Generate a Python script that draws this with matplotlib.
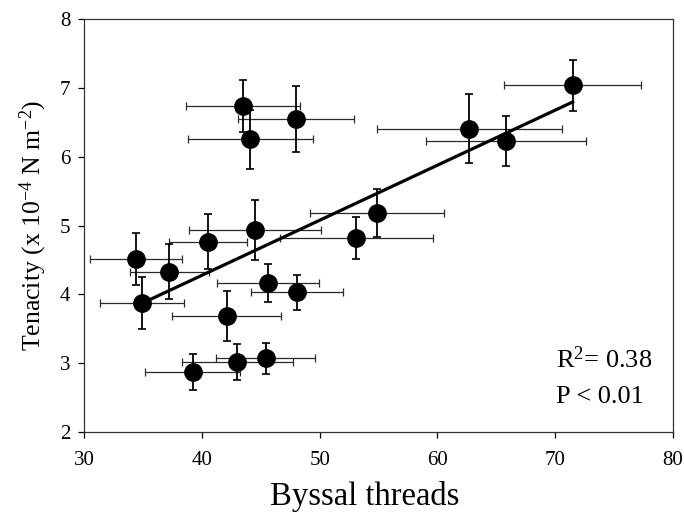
import numpy as np
import matplotlib
matplotlib.use("Agg")
import matplotlib.pyplot as plt

plt.rcParams['font.family'] = ['Liberation Serif', 'DejaVu Serif']
plt.rcParams['mathtext.fontset'] = 'custom'
plt.rcParams['mathtext.rm'] = 'Liberation Serif'
plt.rcParams['mathtext.it'] = 'Liberation Serif:italic'

# values
byssal = [34.4, 37.2, 34.9, 40.5, 44.5, 42.1, 45.6, 48.1, 39.2, 43.0,
          45.4, 43.5, 44.1, 48.0, 53.1, 54.9, 62.7, 65.8, 71.5]
tenacity = [4.52, 4.33, 3.88, 4.77, 4.94, 3.69, 4.17, 4.03, 2.87, 3.02,
            3.07, 6.74, 6.26, 6.55, 4.82, 5.18, 6.41, 6.23, 7.04]
byssal_err = [3.9, 3.35, 3.6, 3.3, 5.6, 4.65, 4.35, 3.9, 4.05, 4.7,
              4.2, 4.85, 5.3, 4.95, 6.5, 5.7, 7.85, 6.8, 5.8]
tenacity_err = [0.38, 0.40, 0.38, 0.40, 0.44, 0.36, 0.28, 0.25, 0.26, 0.26,
                0.23, 0.38, 0.43, 0.48, 0.30, 0.35, 0.50, 0.36, 0.37]

# regression line as drawn in the figure
fit_slope = 0.080
fit_intercept = 1.08

fig = plt.figure(figsize=(6.84, 5.15), dpi=100)
ax = fig.add_axes([0.1234, 0.1612, 0.8601, 0.8010])

# horizontal and vertical error bars
ax.errorbar(byssal, tenacity, xerr=byssal_err, fmt='none', ecolor='#2a2a2a',
            elinewidth=0.9, capsize=2.6, capthick=0.9, zorder=1)
ax.errorbar(byssal, tenacity, yerr=tenacity_err, fmt='none', ecolor='black',
            elinewidth=1.3, capsize=3.0, capthick=1.2, zorder=1)

xs = np.array([min(byssal), max(byssal)])
ax.plot(xs, fit_intercept + fit_slope * xs, color='black', lw=2.3, zorder=2)

ax.plot(byssal, tenacity, 'o', color='black', markersize=12.5, zorder=3)

ax.set_xlim(30, 80)
ax.set_ylim(2, 8)
ax.set_xticks([30, 40, 50, 60, 70, 80])
ax.set_yticks([2, 3, 4, 5, 6, 7, 8])
ax.tick_params(axis='both', direction='out', length=4, width=0.9, labelsize=15)
ax.tick_params(axis='x', pad=10)
ax.tick_params(axis='y', pad=6)
for s in ax.spines.values():
    s.set_linewidth(0.9)
    s.set_color('#333333')

ax.set_xlabel('Byssal threads', fontsize=23.5)
ax.xaxis.set_label_coords(0.477, -0.118)
ax.set_ylabel(r'Tenacity (x 10$^{-4}$ N m$^{-2}$)', fontsize=18.5, labelpad=8)

ax.text(0.802, 0.155, r'R$^{2}$= 0.38', transform=ax.transAxes,
        fontsize=19, va='baseline', ha='left')
ax.text(0.802, 0.070, 'P < 0.01', transform=ax.transAxes,
        fontsize=19, va='baseline', ha='left')

fig.savefig('out.png', dpi=100)
